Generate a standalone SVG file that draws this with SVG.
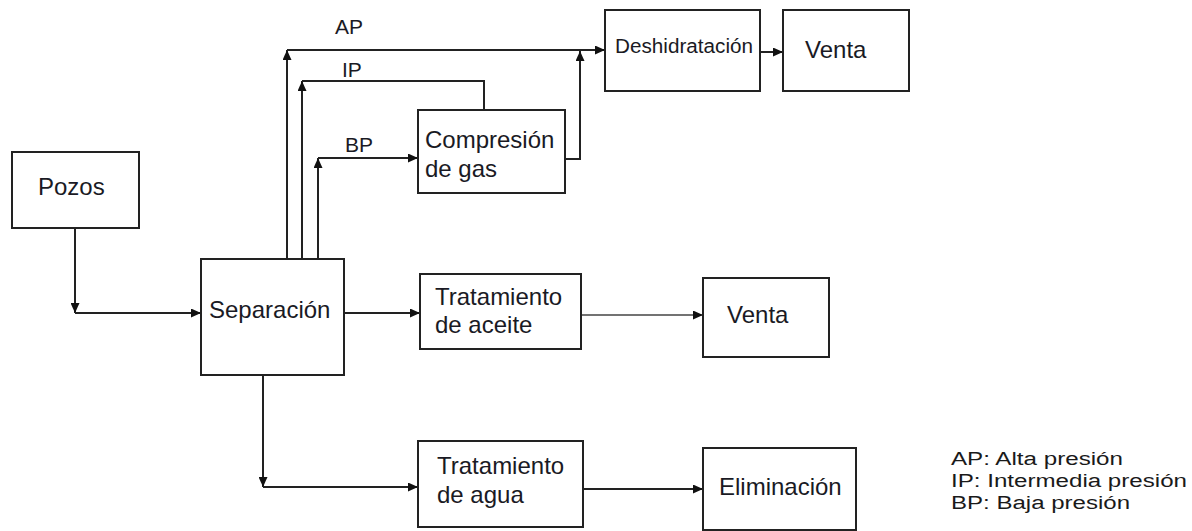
<svg xmlns="http://www.w3.org/2000/svg" width="1192" height="531" viewBox="0 0 1192 531">
<defs>
<marker id="ah" markerUnits="userSpaceOnUse" markerWidth="11" markerHeight="9" refX="10" refY="4.5" orient="auto">
<path d="M0,0 L10,4.5 L0,9 z" fill="#111"/>
</marker>
<style>
.box{fill:#fff;stroke:#222;stroke-width:2}
.t{font-family:"Liberation Sans",Arial,sans-serif;font-size:24px;fill:#1a1a24}
.lbl{font-family:"Liberation Sans",Arial,sans-serif;font-size:21px;fill:#1a1a24}
.leg{font-family:"Liberation Sans",Arial,sans-serif;font-size:18px;fill:#1a1a1a}
.c{fill:none;stroke:#222;stroke-width:2}
.ca{fill:none;stroke:#222;stroke-width:2;marker-end:url(#ah)}
.thin{fill:none;stroke:#444;stroke-width:1.5;marker-end:url(#ah)}
</style>
</defs>
<rect width="1192" height="531" fill="#fff"/>
<g id="connectors">
<path class="ca" d="M75,228 V313"/>
<path class="ca" d="M75,313 H201"/>
<path class="ca" d="M287,259 V50"/>
<path class="ca" d="M287,50 H605"/>
<path class="ca" d="M302,259 V81"/>
<path class="c" d="M302,81 H484 V110"/>
<path class="ca" d="M318,259 V158"/>
<path class="ca" d="M318,158 H418"/>
<path class="ca" d="M565,159 H580 V51"/>
<path class="ca" d="M760,52 H783"/>
<path class="ca" d="M344,313 H420"/>
<path class="thin" d="M581,315 H703"/>
<path class="ca" d="M263,375 V487"/>
<path class="ca" d="M263,487 H418"/>
<path class="ca" d="M583,489 H703"/>
<text class="lbl" x="335" y="34">AP</text>
<text class="lbl" x="342" y="77">IP</text>
<text class="lbl" x="345" y="152">BP</text>
</g>
<g id="pozos"><rect class="box" x="12" y="152" width="127" height="76"/><text class="t" x="38" y="195">Pozos</text></g>
<g id="separacion"><rect class="box" x="201" y="259" width="143" height="116"/><text class="t" x="209" y="318">Separación</text></g>
<g id="compresion"><rect class="box" x="418" y="110" width="147" height="83"/><text class="t" x="425" y="148">Compresión</text><text class="t" x="425" y="177">de gas</text></g>
<g id="deshidratacion"><rect class="box" x="605" y="10" width="155" height="81"/><text class="t" x="615" y="53" style="font-size:20px" textLength="138" lengthAdjust="spacingAndGlyphs">Deshidratación</text></g>
<g id="venta1"><rect class="box" x="783" y="10" width="126" height="81"/><text class="t" x="805" y="58">Venta</text></g>
<g id="aceite"><rect class="box" x="420" y="274" width="161" height="75"/><text class="t" x="435" y="305">Tratamiento</text><text class="t" x="435" y="333">de aceite</text></g>
<g id="venta2"><rect class="box" x="703" y="278" width="126" height="79"/><text class="t" x="727" y="323">Venta</text></g>
<g id="agua"><rect class="box" x="418" y="441" width="165" height="86"/><text class="t" x="437" y="474">Tratamiento</text><text class="t" x="437" y="503">de agua</text></g>
<g id="eliminacion"><rect class="box" x="703" y="448" width="153" height="82"/><text class="t" x="719" y="495">Eliminación</text></g>
<g id="leyenda">
<text class="leg" x="951" y="465" textLength="172" lengthAdjust="spacingAndGlyphs">AP: Alta presión</text>
<text class="leg" x="951" y="487" textLength="236" lengthAdjust="spacingAndGlyphs">IP: Intermedia presión</text>
<text class="leg" x="951" y="509" textLength="179" lengthAdjust="spacingAndGlyphs">BP: Baja presión</text>
</g>
</svg>
